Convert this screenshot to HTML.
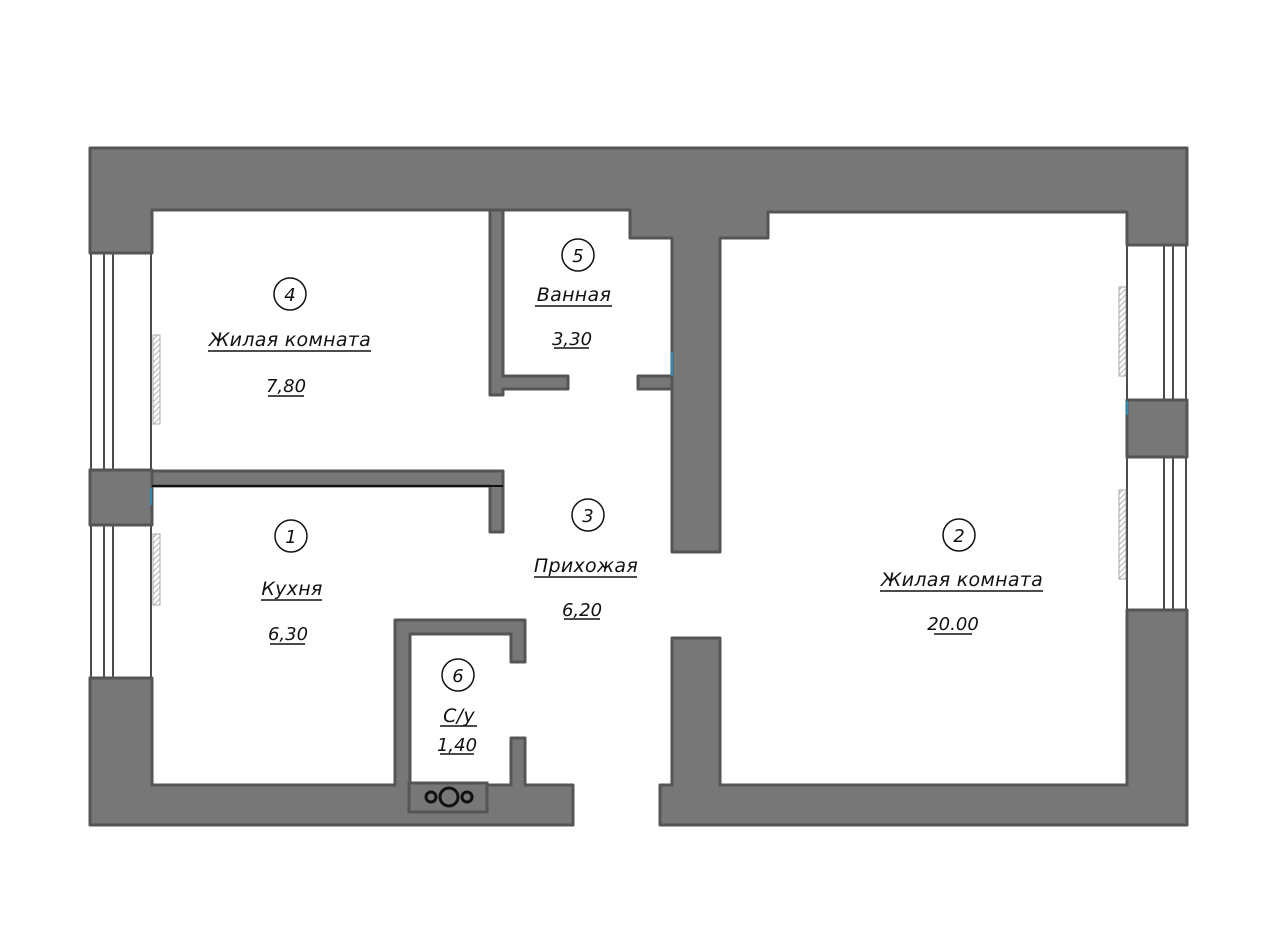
<!DOCTYPE html>
<html><head><meta charset="utf-8"><style>
html,body{margin:0;padding:0;background:#fff;}
svg{display:block;}
.w{fill:#777;stroke:#555;stroke-width:3;stroke-linejoin:round;}
.t{font-family:"DejaVu Sans","Liberation Sans",sans-serif;font-style:italic;font-size:19px;fill:#111;text-anchor:middle;letter-spacing:0.3px;}
.n{font-family:"DejaVu Sans","Liberation Sans",sans-serif;font-style:italic;font-size:18px;fill:#111;text-anchor:middle;}
.u{stroke:#111;stroke-width:1.5;}
.c{fill:#fff;stroke:#111;stroke-width:1.5;}
.win{fill:#fff;stroke:#111;stroke-width:1.5;}
.hatch{fill:url(#h);stroke:#aaa;stroke-width:1;}
</style></head><body>
<svg width="1280" height="949" viewBox="0 0 1280 949" xmlns="http://www.w3.org/2000/svg">
<defs><pattern id="h" width="4" height="4" patternUnits="userSpaceOnUse" patternTransform="rotate(45)"><rect width="4" height="4" fill="#fff"/><line x1="0" y1="0" x2="0" y2="4" stroke="#999" stroke-width="1.5"/></pattern></defs>

<rect class="win" x="91" y="253" width="60" height="217"/>
<line class="u" x1="104" y1="253" x2="104" y2="470"/><line class="u" x1="113" y1="253" x2="113" y2="470"/>
<rect class="win" x="91" y="525" width="60" height="153"/>
<rect class="win" x="104" y="525" width="9" height="153"/>
<rect class="win" x="1127" y="245" width="59" height="155"/>
<line class="u" x1="1164" y1="245" x2="1164" y2="400"/><line class="u" x1="1173" y1="245" x2="1173" y2="400"/>
<rect class="win" x="1127" y="457" width="59" height="153"/>
<line class="u" x1="1164" y1="457" x2="1164" y2="610"/><line class="u" x1="1173" y1="457" x2="1173" y2="610"/>
<rect class="hatch" x="153" y="335" width="7" height="89"/>
<rect class="hatch" x="153" y="534" width="7" height="71"/>
<rect class="hatch" x="1119" y="287" width="7" height="89"/>
<rect class="hatch" x="1119" y="490" width="7" height="89"/>

<path class="w" d="M90,148 H1187 V245 H1127 V212 H768 V238 H720 V552 H672 V238 H630 V210 H152 V253 H90 Z"/>
<rect class="w" x="90" y="470" width="62" height="55"/>
<path class="w" d="M90,678 H152 V785 H395 V620 H525 V662 H511 V634 H410 V785 H511 V738 H525 V785 H573 V825 H90 Z"/>
<path class="w" d="M660,785 H672 V638 H720 V785 H1127 V610 H1187 V825 H660 Z"/>
<rect class="w" x="1127" y="400" width="60" height="57"/>
<path class="w" d="M152,471 H503 V532 H490 V486 H152 Z"/>
<line x1="152" y1="486" x2="503" y2="486" stroke="#111" stroke-width="2"/>
<path class="w" d="M490,210 H503 V376 H568 V389 H503 V395 H490 Z"/>
<rect class="w" x="638" y="376" width="34" height="13"/>
<rect x="409" y="783" width="78" height="29" fill="#777" stroke="#555" stroke-width="3"/>
<circle cx="431" cy="797" r="5" fill="none" stroke="#111" stroke-width="3"/>
<circle cx="449" cy="797" r="9" fill="none" stroke="#111" stroke-width="3"/>
<circle cx="467" cy="797" r="5" fill="none" stroke="#111" stroke-width="3"/>
<line x1="151" y1="488" x2="151" y2="505" stroke="#2a8ab0" stroke-width="2"/>
<line x1="672" y1="352" x2="672" y2="376" stroke="#2a8ab0" stroke-width="2"/>
<line x1="1127" y1="401" x2="1127" y2="415" stroke="#2a8ab0" stroke-width="2"/>

<circle class="c" cx="290" cy="294" r="16"/><text class="n" x="290" y="301">4</text>
<text class="t" x="290" y="346">Жилая комната</text><line class="u" x1="208" y1="351" x2="371" y2="351"/>
<text class="n" x="286" y="392">7,80</text><line class="u" x1="268" y1="396" x2="304" y2="396"/>

<circle class="c" cx="578" cy="255" r="16"/><text class="n" x="578" y="262">5</text>
<text class="t" x="574" y="301">Ванная</text><line class="u" x1="535" y1="306" x2="612" y2="306"/>
<text class="n" x="572" y="345">3,30</text><line class="u" x1="554" y1="348" x2="589" y2="348"/>

<circle class="c" cx="291" cy="536" r="16"/><text class="n" x="291" y="543">1</text>
<text class="t" x="292" y="595">Кухня</text><line class="u" x1="261" y1="600" x2="322" y2="600"/>
<text class="n" x="288" y="640">6,30</text><line class="u" x1="270" y1="644" x2="305" y2="644"/>

<circle class="c" cx="588" cy="515" r="16"/><text class="n" x="588" y="522">3</text>
<text class="t" x="586" y="572">Прихожая</text><line class="u" x1="534" y1="577" x2="637" y2="577"/>
<text class="n" x="582" y="616">6,20</text><line class="u" x1="564" y1="619" x2="600" y2="619"/>

<circle class="c" cx="959" cy="535" r="16"/><text class="n" x="959" y="542">2</text>
<text class="t" x="962" y="586">Жилая комната</text><line class="u" x1="880" y1="591" x2="1043" y2="591"/>
<text class="n" x="953" y="630">20.00</text><line class="u" x1="934" y1="634" x2="972" y2="634"/>

<circle class="c" cx="458" cy="675" r="16"/><text class="n" x="458" y="682">6</text>
<text class="t" x="459" y="722">С/у</text><line class="u" x1="440" y1="726" x2="477" y2="726"/>
<text class="n" x="457" y="751">1,40</text><line class="u" x1="440" y1="754" x2="474" y2="754"/>
</svg>
</body></html>
